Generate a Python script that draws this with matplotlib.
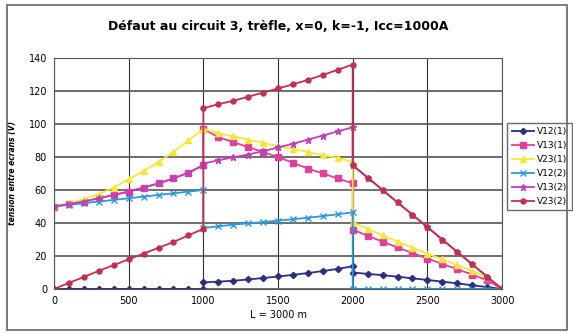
import matplotlib
matplotlib.use("Agg")
import matplotlib.pyplot as plt

# distance along the line (m); 1000 and 2000 appear twice (section ends/starts)
dist = [0, 100, 200, 300, 400, 500, 600, 700, 800, 900, 1000,
        1000, 1100, 1200, 1300, 1400, 1500, 1600, 1700, 1800, 1900, 2000,
        2000, 2100, 2200, 2300, 2400, 2500, 2600, 2700, 2800, 2900, 3000]

v12_1 = [0, 0, 0, 0, 0, 0, 0, 0, 0, 0, 0,
         4, 4.5, 5, 5.8, 6.7, 7.6, 8.6, 9.7, 10.9, 12.2, 13.8,
         10, 9.2, 8.4, 7.5, 6.5, 5.5, 4.5, 3.4, 2.3, 1.2, 0]
v13_1 = [50, 51.5, 53, 55, 57, 59, 61.5, 64, 67, 70.5, 75,
         97, 92, 89, 86, 83, 80, 76.5, 73, 70, 67, 64,
         36, 32.3, 28.7, 25.2, 21.8, 18.5, 15.2, 12, 8.8, 5.2, 0]
v23_1 = [50, 52, 54.5, 57.5, 61.5, 66.5, 71.5, 77, 83, 90, 97,
         97, 94.5, 92.5, 90.5, 88.5, 86.5, 85, 83, 81, 79.5, 77,
         40.5, 36.5, 32.5, 28.8, 25, 21.5, 18, 14.5, 11, 7, 0]
v12_2 = [50, 51, 52, 53, 54, 55, 56, 57, 58, 59, 60,
         37, 38, 39, 39.8, 40.6, 41.4, 42.3, 43.2, 44.2, 45.3, 46.5,
         0, 0, 0, 0, 0, 0, 0, 0, 0, 0, 0]
v13_2 = [50, 51.5, 53, 55, 57, 59, 61.5, 64, 67, 70.5, 75,
         76, 78, 79.8, 81.5, 83.5, 85.8, 88, 90.5, 93, 95.5, 98,
         75, 67.5, 60, 52.5, 45, 37.5, 30, 22.5, 15, 7.5, 0]
v23_2 = [0, 3.7, 7.3, 11, 14.5, 18, 21.5, 25, 28.5, 32.5, 36.5,
         109.5, 112, 114, 116.5, 119, 121.5, 124, 126.7, 129.7, 132.8, 136,
         75, 67.5, 60, 52.5, 45, 37.5, 30, 22.5, 15, 7.5, 0]

series = [
    ("V12(1)", v12_1, "#2b2f7e", "D", 3.2),
    ("V13(1)", v13_1, "#e0409a", "s", 3.8),
    ("V23(1)", v23_1, "#f3e83a", "^", 4.0),
    ("V12(2)", v12_2, "#2a9ad8", "x", 4.0),
    ("V13(2)", v13_2, "#c23fb8", "*", 4.5),
    ("V23(2)", v23_2, "#c2304f", "o", 3.6),
]

fig = plt.figure(figsize=(5.73, 3.33), dpi=100)
ax = fig.add_axes([0.0942, 0.132, 0.782, 0.694])

for label, vals, color, marker, ms in series:
    ax.plot(dist, vals, color=color, marker=marker, markersize=ms,
            linewidth=1.3, markeredgewidth=1.0, label=label)

ax.set_xlim(0, 3000)
ax.set_ylim(0, 140)
ax.set_xticks(range(0, 3001, 500))
ax.set_yticks(range(0, 141, 20))
ax.tick_params(labelsize=7, length=0, pad=5)
ax.grid(True, axis="y", color="#555555", linewidth=1.2)
ax.grid(True, axis="x", color="#333333", linewidth=0.8)
ax.set_axisbelow(True)
for s in ax.spines.values():
    s.set_color("#555555")
    s.set_linewidth(0.8)

ax.set_title("Défaut au circuit 3, trèfle, x=0, k=-1, Icc=1000A",
             fontsize=9, fontweight="bold", pad=20)
ax.set_xlabel("L = 3000 m", fontsize=7, labelpad=3)
ax.set_ylabel("tension entre écrans (V)", fontsize=5.5,
              fontweight="bold", style="italic", labelpad=8)

leg = ax.legend(loc="upper left", bbox_to_anchor=(1.002, 0.74), fontsize=6.5,
                frameon=True, fancybox=False, edgecolor="#444444",
                handlelength=2.4, labelspacing=0.55, borderpad=0.5,
                handletextpad=0.4)
leg.get_frame().set_linewidth(1.0)

# outer chart frame
fig.patches.append(plt.Rectangle((0.012, 0.01), 0.978, 0.975,
                                 transform=fig.transFigure, fill=False,
                                 edgecolor="#666666", linewidth=1.2))

fig.savefig("out.png", dpi=100)
